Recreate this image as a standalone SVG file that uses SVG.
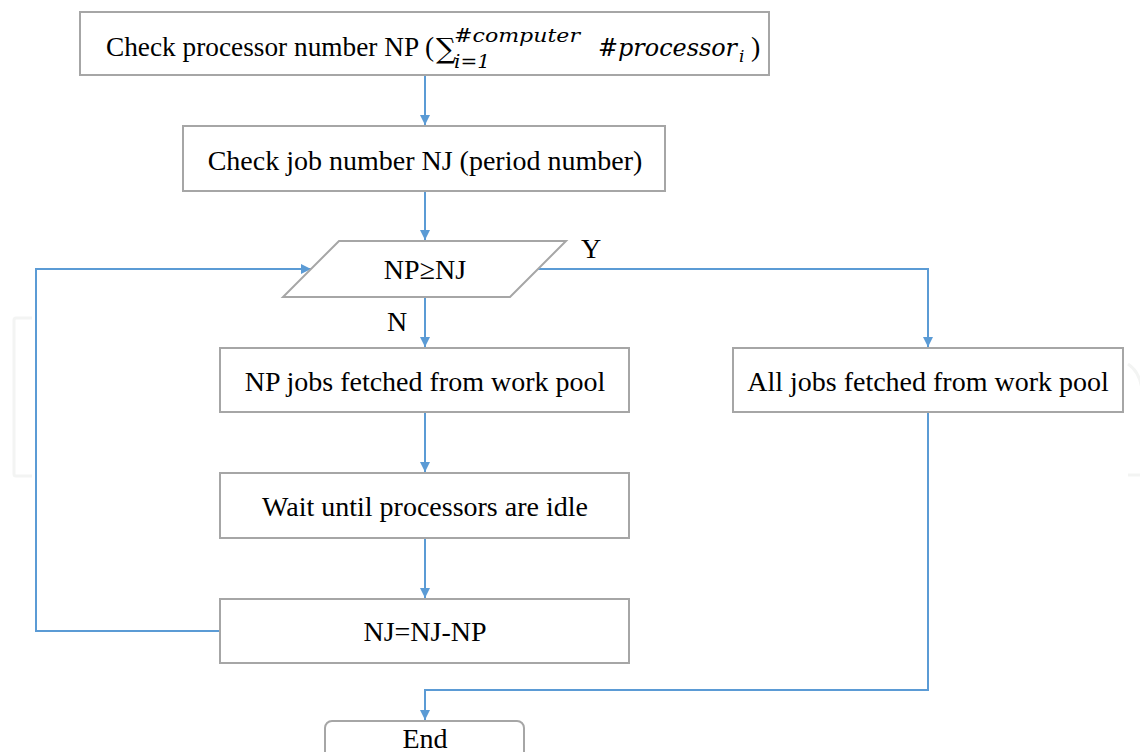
<svg xmlns="http://www.w3.org/2000/svg" width="1140" height="752" viewBox="0 0 1140 752">
  <style>
    .box { fill: #ffffff; stroke: #a6a6a6; stroke-width: 2; }
    .lbl { font-family: "Liberation Serif", "Times New Roman", serif; font-size: 28px; fill: #000000; text-anchor: middle; }
    .left { text-anchor: start; }
    .math { font-family: "DejaVu Serif", "Liberation Serif", serif; font-style: italic; text-anchor: start; }
    .conn { fill: none; stroke: #5b9bd5; stroke-width: 2; }
    .mark { fill: none; stroke: #f3f4f3; stroke-width: 3; }
  </style>
  <defs>
    <marker id="arrow" viewBox="0 0 10 10" refX="10" refY="5" markerWidth="10" markerHeight="10" markerUnits="userSpaceOnUse" orient="auto">
      <path d="M0,0 L10,5 L0,10 Z" fill="#5b9bd5"/>
    </marker>
  </defs>
  <rect width="1140" height="752" fill="#ffffff"/>

  <!-- faint background marks -->
  <g id="background-marks">
    <path class="mark" d="M32,318 H16 Q14,318 14,320 V474 Q14,476 16,476 H32"/>
    <path class="mark" d="M1128,364 Q1140,372 1142,390"/>
    <path class="mark" d="M1128,475 H1142"/>
  </g>

  <g id="connectors">
    <path class="conn" d="M425,75 V125" marker-end="url(#arrow)"/>
    <path class="conn" d="M425,191 V240" marker-end="url(#arrow)"/>
    <path class="conn" d="M425,297 V347" marker-end="url(#arrow)"/>
    <path class="conn" d="M425,412 V472" marker-end="url(#arrow)"/>
    <path class="conn" d="M425,538 V598" marker-end="url(#arrow)"/>
    <path class="conn" d="M220,631 H36 V269 H311" marker-end="url(#arrow)"/>
    <path class="conn" d="M538,269 H928 V347" marker-end="url(#arrow)"/>
    <path class="conn" d="M928,412 V690 H425 V720" marker-end="url(#arrow)"/>
  </g>

  <g id="check-processors">
    <rect class="box" x="80" y="12" width="689" height="63"/>
    <text class="lbl left" x="106" y="56" textLength="328" lengthAdjust="spacingAndGlyphs">Check processor number NP (</text>
    <text class="lbl left" x="436" y="58" font-size="24" style="font-family:'DejaVu Serif',serif">∑</text>
    <text class="math" x="454" y="68" font-size="18" textLength="36" lengthAdjust="spacingAndGlyphs">i=1</text>
    <text class="math" x="454" y="42" font-size="19" textLength="126" lengthAdjust="spacingAndGlyphs">#computer</text>
    <text class="math" x="598" y="56" font-size="25" textLength="139" lengthAdjust="spacingAndGlyphs">#processor</text>
    <text class="math" x="739" y="62" font-size="17">i</text>
    <text class="lbl left" x="751" y="56">)</text>
  </g>

  <g id="check-jobs">
    <rect class="box" x="183" y="126" width="482" height="65"/>
    <text class="lbl" x="425" y="170">Check job number NJ (period number)</text>
  </g>

  <g id="decision">
    <polygon class="box" points="339,241 566,241 510,297 283,297"/>
    <text class="lbl" x="425" y="279">NP≥NJ</text>
    <text class="lbl" x="591" y="258">Y</text>
    <text class="lbl" x="397" y="331">N</text>
  </g>

  <g id="fetch-np">
    <rect class="box" x="220" y="348" width="409" height="64"/>
    <text class="lbl" x="425" y="391">NP jobs fetched from work pool</text>
  </g>

  <g id="fetch-all">
    <rect class="box" x="733" y="348" width="390" height="64"/>
    <text class="lbl" x="928" y="391">All jobs fetched from work pool</text>
  </g>

  <g id="wait-idle">
    <rect class="box" x="220" y="473" width="409" height="65"/>
    <text class="lbl" x="425" y="516">Wait until processors are idle</text>
  </g>

  <g id="update-nj">
    <rect class="box" x="220" y="599" width="409" height="64"/>
    <text class="lbl" x="425" y="641">NJ=NJ-NP</text>
  </g>

  <g id="end">
    <rect class="box" x="325" y="721" width="199" height="50" rx="7" ry="7"/>
    <text class="lbl" x="425" y="748">End</text>
  </g>
</svg>
